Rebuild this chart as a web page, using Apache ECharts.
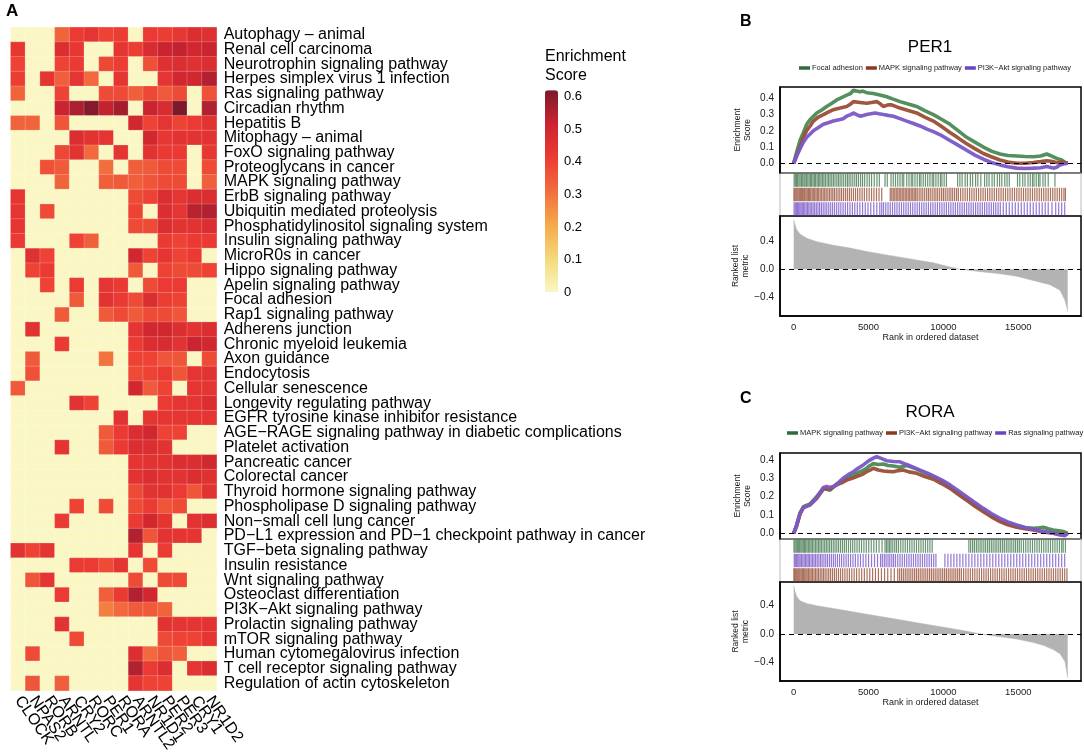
<!DOCTYPE html>
<html><head><meta charset="utf-8">
<script src="https://cdn.jsdelivr.net/npm/echarts@6/dist/echarts.min.js"></script>
<style>html,body{margin:0;padding:0;background:#fff}#c{width:1084px;height:755px}</style>
</head><body><div id="c"></div>
<script>
const genes = ['CLOCK','NPAS2','RORB','ARNTL','CRY2','RORC','PER1','RORA','ARNTL2','NR1D1','PER2','PER3','CRY1','NR1D2'];
const pathways = ['Autophagy – animal','Renal cell carcinoma','Neurotrophin signaling pathway','Herpes simplex virus 1 infection','Ras signaling pathway','Circadian rhythm','Hepatitis B','Mitophagy – animal','FoxO signaling pathway','Proteoglycans in cancer','MAPK signaling pathway','ErbB signaling pathway','Ubiquitin mediated proteolysis','Phosphatidylinositol signaling system','Insulin signaling pathway','MicroR0s in cancer','Hippo signaling pathway','Apelin signaling pathway','Focal adhesion','Rap1 signaling pathway','Adherens junction','Chronic myeloid leukemia','Axon guidance','Endocytosis','Cellular senescence','Longevity regulating pathway','EGFR tyrosine kinase inhibitor resistance','AGE−RAGE signaling pathway in diabetic complications','Platelet activation','Pancreatic cancer','Colorectal cancer','Thyroid hormone signaling pathway','Phospholipase D signaling pathway','Non−small cell lung cancer','PD−L1 expression and PD−1 checkpoint pathway in cancer','TGF−beta signaling pathway','Insulin resistance','Wnt signaling pathway','Osteoclast differentiation','PI3K−Akt signaling pathway','Prolactin signaling pathway','mTOR signaling pathway','Human cytomegalovirus infection','T cell receptor signaling pathway','Regulation of actin cytoskeleton'];
const scores = [
[0,0,0,0.33,0.42,0.44,0.40,0.41,0,0.42,0.41,0.43,0.47,0.46],
[0.43,0,0,0.47,0.43,0,0,0.44,0.41,0.48,0.52,0.53,0.50,0.52],
[0.40,0,0,0.40,0.42,0,0.39,0.41,0,0.37,0.46,0.47,0.46,0.47],
[0.41,0,0.44,0.34,0.44,0.32,0,0.44,0,0,0.44,0.50,0.50,0.55],
[0.33,0,0,0.40,0,0,0.38,0.38,0.34,0.39,0.35,0.38,0,0.37],
[0,0,0,0.52,0.56,0.61,0.53,0.57,0,0.52,0.48,0.62,0,0.55],
[0.33,0.33,0,0.36,0,0,0,0,0.50,0.40,0.44,0.40,0.42,0.45],
[0,0,0,0,0.47,0.45,0.44,0,0,0.50,0.43,0.45,0.45,0.45],
[0,0,0,0.39,0.45,0.32,0,0.44,0,0.45,0.42,0.42,0,0.43],
[0,0,0.37,0.35,0,0,0.31,0,0.34,0.35,0.38,0.38,0,0.38],
[0,0,0,0.33,0,0,0.34,0.35,0.34,0.36,0.38,0.38,0,0.34],
[0.44,0,0,0,0,0,0,0,0.38,0.40,0.47,0.44,0.47,0.47],
[0.44,0,0.38,0,0,0,0,0,0.40,0,0.47,0.44,0.54,0.55],
[0.44,0,0,0,0,0,0,0,0.38,0.38,0.47,0.45,0.45,0.47],
[0.42,0,0,0,0.40,0.34,0,0,0,0,0.42,0.40,0.42,0.42],
[0,0.46,0.40,0,0,0,0,0,0.50,0.40,0.44,0.40,0.42,0],
[0,0.40,0.42,0,0,0,0,0,0.35,0,0.40,0.38,0.38,0.40],
[0,0,0.40,0,0.42,0,0.44,0.42,0,0.38,0.42,0.42,0,0],
[0,0,0,0,0.35,0,0.45,0.42,0.38,0.47,0.41,0.40,0,0],
[0,0,0,0.35,0,0,0.35,0.38,0.35,0.38,0.38,0.36,0,0],
[0,0.45,0,0,0,0,0,0,0.44,0.50,0.50,0.47,0.45,0.47],
[0,0,0,0.42,0,0,0,0,0.42,0.47,0.48,0.45,0.52,0.50],
[0,0.35,0,0,0,0,0.30,0,0.40,0.40,0.36,0.36,0,0.38],
[0,0.37,0,0,0,0,0,0,0.38,0.40,0.42,0.36,0.44,0.45],
[0.35,0,0,0,0,0,0,0,0.50,0.35,0.40,0,0.44,0.44],
[0,0,0,0,0.45,0.40,0,0,0,0,0.42,0.44,0.44,0.47],
[0,0,0,0,0,0,0,0.45,0,0.44,0.44,0.44,0.44,0.44],
[0,0,0,0,0,0,0.35,0.42,0.47,0.50,0.40,0.40,0,0],
[0,0,0,0.44,0,0,0.35,0.42,0.47,0.47,0.45,0,0,0],
[0,0,0,0,0,0,0,0,0.44,0.45,0.45,0.47,0.47,0.50],
[0,0,0,0,0,0,0,0,0.45,0.47,0.45,0.45,0.47,0.46],
[0,0,0,0,0,0,0,0,0.38,0.45,0.45,0.42,0.36,0.45],
[0,0,0,0,0.40,0,0.38,0,0.38,0.42,0.36,0.38,0,0],
[0,0,0,0.42,0,0,0,0,0.42,0.50,0.44,0,0.45,0.47],
[0,0,0,0,0,0,0,0,0.55,0.36,0.45,0.44,0.44,0],
[0.45,0.40,0.44,0,0,0,0,0,0.44,0,0.42,0,0,0],
[0,0,0,0,0.42,0.42,0.38,0.44,0,0.38,0,0,0,0],
[0,0.36,0.44,0,0,0,0,0,0.38,0,0.38,0.38,0,0],
[0,0,0,0.42,0,0,0.34,0.42,0.55,0.50,0,0,0,0],
[0,0,0,0,0,0,0.28,0.32,0.35,0.35,0.33,0,0,0],
[0,0,0,0.45,0,0,0,0,0,0,0.45,0.44,0.44,0.45],
[0,0,0,0,0.38,0,0,0,0,0,0.38,0.40,0.40,0.44],
[0,0.38,0,0,0,0,0,0,0.47,0.32,0.36,0.34,0,0],
[0,0,0,0,0,0,0,0,0.55,0.42,0.47,0,0.44,0.47],
[0,0.36,0,0.34,0,0,0,0,0.44,0.40,0.40,0,0,0]
];
const colorbarTicks = [0,0.1,0.2,0.3,0.4,0.5,0.6];
const esTicks = [0,0.1,0.2,0.3,0.4];
const metricTicks = [-0.4,0,0.4];
const rankTicks = [0,5000,10000,15000];

// Panel B: PER1
const perSets = ['Focal adhesion','MAPK signaling pathway','PI3K−Akt signaling pathway'];
const perES_focal = [[0,0],[200,0.07],[420,0.14],[650,0.19],[870,0.24],[1100,0.27],[1540,0.31],[1900,0.33],[2200,0.35],[2550,0.37],[2870,0.39],[3200,0.405],[3540,0.42],[3800,0.43],[3985,0.45],[4200,0.445],[4430,0.44],[4600,0.445],[4875,0.435],[5320,0.43],[5760,0.42],[6210,0.41],[6650,0.395],[7100,0.38],[7650,0.365],[8210,0.35],[8750,0.325],[9330,0.30],[9900,0.27],[10440,0.24],[11000,0.20],[11550,0.16],[12100,0.13],[12670,0.10],[13200,0.075],[13780,0.057],[14300,0.048],[14890,0.045],[15450,0.042],[16000,0.04],[16500,0.045],[16900,0.057],[17200,0.045],[17560,0.03],[17900,0.02],[18120,0.005],[18300,0]];
const perES_mapk = [[0,0],[200,0.05],[423,0.10],[650,0.16],[868,0.20],[1100,0.23],[1313,0.26],[1650,0.285],[1981,0.30],[2300,0.315],[2649,0.33],[3100,0.34],[3539,0.35],[3800,0.365],[3985,0.38],[4430,0.375],[4875,0.37],[5200,0.375],[5543,0.38],[5800,0.365],[5988,0.35],[6300,0.36],[6544,0.36],[7101,0.34],[7650,0.325],[8214,0.31],[8750,0.285],[9327,0.26],[9900,0.225],[10440,0.19],[11000,0.155],[11553,0.12],[12100,0.09],[12666,0.06],[13200,0.04],[13779,0.02],[14300,0.008],[14892,0.0],[15450,0.0],[16005,0.005],[16500,0.01],[16895,0.016],[17200,0.012],[17563,0.005],[17900,0.008],[18120,0.004],[18300,0]];
const perES_pi3k = [[0,0],[200,0.045],[423,0.09],[650,0.13],[868,0.16],[1100,0.18],[1313,0.20],[1650,0.22],[1981,0.24],[2300,0.25],[2649,0.26],[3094,0.27],[3300,0.275],[3539,0.29],[3800,0.30],[3985,0.31],[4200,0.30],[4430,0.29],[4650,0.295],[4875,0.30],[5150,0.305],[5431,0.31],[5700,0.305],[5988,0.30],[6300,0.295],[6656,0.29],[7101,0.275],[7546,0.26],[8000,0.245],[8437,0.23],[8900,0.21],[9327,0.195],[9900,0.17],[10440,0.14],[11000,0.11],[11553,0.08],[12100,0.05],[12666,0.025],[13200,0.005],[13779,-0.01],[14300,-0.022],[14892,-0.03],[15450,-0.032],[16005,-0.03],[16500,-0.028],[16895,-0.02],[17100,-0.024],[17341,-0.03],[17563,-0.025],[17786,-0.01],[18000,-0.005],[18120,0.0],[18300,0]];
const perHits_focal = [30,110,190,260,350,430,520,600,690,760,850,940,1030,1120,1200,1290,1380,1460,1560,1650,1740,1830,1930,2020,2120,2230,2330,2430,2540,2650,2760,2880,2990,3100,3220,3340,3470,3590,3700,3820,3950,4080,4200,4330,4470,4600,4740,4900,5050,5200,5380,5560,5720,6100,6250,6500,6650,6800,6950,7100,7250,7350,7550,7700,7850,7950,8100,8250,8400,8500,8650,8800,8950,9100,9250,9350,9500,9650,9800,9900,10050,10200,10950,11100,11250,11450,11600,11800,11950,12150,12300,12500,12750,12900,13050,13250,13400,13600,13750,13900,14100,14250,14400,14950,15100,15300,15450,15650,15800,15950,16050,16200,16350,16450,16650,16800,17000,17450];
const perHits_mapk = [15,80,150,220,290,370,440,510,590,670,740,820,900,980,1060,1140,1230,1310,1400,1490,1580,1670,1770,1870,1970,2070,2170,2280,2390,2500,2610,2720,2840,2960,3080,3200,3330,3460,3590,3720,3850,3990,4130,4270,4420,4570,4720,4880,5040,5200,5360,5530,5700,5880,6450,6550,6650,6750,6850,6950,7050,7150,7250,7350,7450,7550,7650,7750,7850,7950,8050,8150,8250,8380,8500,8620,8750,8880,9000,9120,9250,9380,9500,9620,9750,9880,10000,10120,10250,10380,10500,10620,10750,10880,11000,11150,11300,11450,11600,11750,11900,12050,12200,12350,12500,12650,12800,12950,13100,13250,13400,13550,13700,13850,14000,14150,14300,14450,14600,14750,14900,15050,15200,15350,15500,15650,15800,15950,16100,16250,16400,16550,16700,16850,17000,17150,17300,17450,17600,17750,17900,18050,18150];
const perHits_pi3k = [25,100,180,250,330,410,490,570,650,740,830,920,1010,1100,1200,1300,1400,1510,1620,1730,1850,1970,2090,2210,2340,2470,2600,2730,2870,3010,3150,3300,3450,3600,3760,3920,4080,4250,4420,4600,4780,4960,5150,5350,5550,5750,5880,6000,6150,6300,6450,6600,6750,6900,7050,7200,7350,7500,7650,7800,7950,8100,8250,8400,8550,8700,8850,9000,9150,9300,9450,9600,9750,9900,10050,10200,10350,10500,10650,10800,10950,11100,11250,11400,11550,11700,11850,12000,12150,12300,12450,12600,12750,12900,13050,13200,13350,13500,13650,13800,14000,14200,14400,14600,14800,15000,15200,15400,15600,15800,16000,16200,16400,16600,16800,17000,17250,17500,17700,17900,18100];
const perMetric = [[0,0.70],[90,0.63],[200,0.56],[420,0.50],[870,0.44],[1540,0.39],[2650,0.34],[3760,0.30],[4875,0.25],[5990,0.21],[7100,0.17],[8210,0.13],[9330,0.09],[10440,0.03],[11100,0.0],[12670,-0.04],[13780,-0.065],[14890,-0.10],[16000,-0.16],[17120,-0.22],[17790,-0.30],[18120,-0.44],[18250,-0.55],[18300,-0.6]];

// Panel C: RORA
const roraSets = ['MAPK signaling pathway','PI3K−Akt signaling pathway','Ras signaling pathway'];
const roraES_mapk = [[0,0],[200,0.045],[423,0.11],[645,0.145],[1090,0.16],[1536,0.20],[1981,0.245],[2200,0.24],[2426,0.235],[2872,0.27],[3200,0.285],[3539,0.30],[3900,0.315],[4207,0.327],[4550,0.34],[4875,0.355],[5100,0.37],[5320,0.38],[5650,0.375],[5988,0.378],[6300,0.37],[6656,0.367],[7101,0.36],[7546,0.37],[7900,0.36],[8214,0.35],[8750,0.33],[9327,0.31],[9900,0.285],[10440,0.255],[11000,0.222],[11553,0.19],[12100,0.158],[12666,0.127],[13200,0.098],[13779,0.073],[14300,0.055],[14892,0.04],[15450,0.032],[16005,0.027],[16400,0.03],[16673,0.033],[17000,0.025],[17341,0.018],[17700,0.014],[18008,0.01],[18300,0]];
const roraES_pi3k = [[0,0],[200,0.04],[423,0.105],[645,0.14],[1090,0.155],[1536,0.19],[1981,0.24],[2200,0.245],[2426,0.24],[2872,0.265],[3200,0.275],[3539,0.29],[3900,0.30],[4207,0.31],[4550,0.32],[4875,0.336],[5100,0.345],[5320,0.355],[5650,0.345],[5988,0.34],[6300,0.338],[6656,0.336],[7000,0.342],[7300,0.345],[7700,0.335],[8214,0.327],[8750,0.31],[9327,0.295],[9900,0.27],[10440,0.245],[11000,0.212],[11553,0.18],[12100,0.148],[12666,0.118],[13200,0.09],[13779,0.064],[14300,0.046],[14892,0.033],[15450,0.025],[16005,0.018],[16500,0.01],[16900,0.004],[17300,0.0],[17700,-0.004],[18008,-0.008],[18120,-0.01],[18300,0]];
const roraES_ras = [[0,0],[200,0.045],[423,0.11],[645,0.14],[1090,0.155],[1536,0.195],[1981,0.25],[2200,0.255],[2426,0.25],[2649,0.255],[2872,0.264],[3094,0.285],[3300,0.30],[3650,0.32],[3985,0.336],[4300,0.355],[4650,0.373],[5000,0.395],[5320,0.41],[5543,0.418],[5800,0.41],[6211,0.396],[6656,0.392],[7101,0.39],[7546,0.375],[7900,0.364],[8437,0.345],[8900,0.33],[9327,0.313],[9900,0.29],[10440,0.264],[11000,0.232],[11553,0.20],[12100,0.168],[12666,0.136],[13200,0.108],[13779,0.082],[14300,0.062],[14892,0.045],[15450,0.032],[16005,0.022],[16500,0.014],[16895,0.009],[17300,0.002],[17786,-0.009],[18120,-0.013],[18300,0]];
const roraHits_mapk = [20,90,170,250,330,400,480,560,640,720,800,890,980,1070,1160,1250,1350,1450,1550,1650,1750,1850,1960,2070,2180,2290,2400,2520,2640,2760,2880,3000,3130,3260,3390,3520,3660,3800,3940,4080,4230,4380,4530,4690,4850,5010,5180,5350,5520,5700,5900,6100,6200,6300,6400,6500,6620,6750,6870,7000,7150,7300,7450,7600,7750,7900,8050,8200,8350,8500,8650,8800,8950,9100,9250,11700,11820,11950,12070,12200,12320,12450,12570,12700,12820,12950,13070,13200,13320,13450,13570,13700,13820,13950,14070,14200,14320,14450,14570,14700,14820,14950,15070,15200,15350,15500,15650,15800,15950,16100,16250,16400,16550,16700,16850,17000,17150,17300,17450,17600,17750,17900,18000,18150];
const roraHits_ras = [35,110,190,270,350,430,520,610,700,790,880,970,1060,1160,1260,1360,1460,1570,1680,1790,1900,2020,2140,2260,2390,2520,2650,2780,2920,3060,3200,3350,3500,3650,3800,3960,4120,4290,4460,4640,4820,5000,5200,5400,5600,5800,5920,6050,6170,6300,6420,6550,6670,6800,6950,7100,7250,7400,7550,7700,7850,8000,8150,8300,8450,8600,8750,8900,9050,9200,9350,9500,10100,10300,10500,10700,10900,11100,11300,11500,11700,11900,12100,12300,12500,12700,12900,13100,13300,13500,13700,13900,14100,14300,14500,14700,14900,15100,15300,15500,15700,15900,16100,16300,16500,16700,16900,17100,17300,17500,17700,17900,18100];
const roraHits_pi3k = [10,70,140,210,280,350,420,500,580,660,740,820,900,990,1080,1170,1260,1360,1460,1560,1660,1770,1880,1990,2100,2220,2340,2460,2590,2720,2850,2990,3130,3270,3420,3570,3720,3880,4040,4200,4370,4540,4720,4900,5080,5270,5460,5660,5860,6070,6280,6500,6720,6950,7075,7200,7325,7450,7575,7700,7825,7950,8075,8200,8325,8450,8575,8700,8825,8950,9075,9200,9325,9450,9575,9700,9825,9950,10075,10200,10325,10450,10575,10700,10825,10950,11075,11200,11350,11500,11650,11800,11950,12100,12250,12400,12550,12700,12850,13000,13150,13300,13450,13600,13750,13900,14050,14200,14350,14500,14650,14800,14950,15100,15250,15400,15550,15700,15850,16000,16150,16300,16450,16600,16750,16900,17050,17200,17350,17500,17650,17800,17950,18100,18250];
const roraMetric = [[0,0.68],[90,0.60],[200,0.53],[420,0.47],[870,0.43],[1540,0.40],[2650,0.36],[3760,0.32],[4875,0.28],[5990,0.24],[7100,0.20],[8210,0.16],[9330,0.12],[10440,0.08],[11550,0.04],[12400,0.005],[12666,-0.005],[13780,-0.04],[14890,-0.07],[16000,-0.12],[16670,-0.16],[17340,-0.22],[17790,-0.28],[18120,-0.39],[18230,-0.52],[18300,-0.62]];

const GREEN = '#4A8A55', BROWN = '#9B4E35', PURPLE = '#7A58C6';
const GREEN_D = '#2F6B3B', BROWN_D = '#8A3A1E', PURPLE_D = '#6A44C2';
const FONT = 'Liberation Sans, Arial, Helvetica, sans-serif';
const TXT = '#1a1a1a';
const XMIN = -915, XMAX = 19190;

const heatData = [];
scores.forEach((row, r) => row.forEach((v, c) => heatData.push([c, r, v])));

const grids = [
  {left: 10.7, top: 27.3, width: 206, height: 665},
  {left: 545, top: 90.2, width: 13, height: 202},
  {left: 780, top: 87, width: 301, height: 86, show: true, borderColor: '#000', borderWidth: 1.5, backgroundColor: 'transparent'},
  {left: 780, top: 173, width: 301, height: 43, show: true, borderColor: '#BBBBBB', borderWidth: 1, backgroundColor: 'transparent'},
  {left: 780, top: 216, width: 301, height: 100, show: true, borderColor: '#000', borderWidth: 1.5, backgroundColor: 'transparent'},
  {left: 780, top: 453, width: 301, height: 86, show: true, borderColor: '#000', borderWidth: 1.5, backgroundColor: 'transparent'},
  {left: 780, top: 539, width: 301, height: 43, show: true, borderColor: '#BBBBBB', borderWidth: 1, backgroundColor: 'transparent'},
  {left: 780, top: 582, width: 301, height: 99, show: true, borderColor: '#000', borderWidth: 1.5, backgroundColor: 'transparent'}
];

function hiddenX(gi) {
  return {gridIndex: gi, type: 'value', min: XMIN, max: XMAX, show: false, splitLine: {show: false},
    axisLine: {onZero: false}};
}
function rankX(gi) {
  return {gridIndex: gi, type: 'value', min: XMIN, max: XMAX, position: 'bottom',
    axisLine: {show: true, onZero: false, lineStyle: {color: '#000', width: 1.5}},
    axisTick: {show: false},
    axisLabel: {customValues: rankTicks, formatter: v => String(v), fontSize: 9.5, color: TXT, fontFamily: FONT, margin: 6},
    splitLine: {show: false},
    name: 'Rank in ordered dataset', nameLocation: 'middle', nameGap: 16,
    nameTextStyle: {fontSize: 9, color: TXT, fontFamily: FONT}};
}
function esY(gi, min, max) {
  return {gridIndex: gi, type: 'value', min: min, max: max, position: 'left',
    axisLine: {show: true, onZero: false, lineStyle: {color: '#000', width: 1.5}},
    axisTick: {show: false},
    axisLabel: {customValues: esTicks, formatter: v => v.toFixed(1), fontSize: 10, color: TXT, fontFamily: FONT, margin: 6},
    splitLine: {show: false},
    name: 'Enrichment\nScore', nameLocation: 'middle', nameGap: 27,
    nameTextStyle: {fontSize: 8.5, lineHeight: 10, color: TXT, fontFamily: FONT}};
}
function metricY(gi, min, max) {
  return {gridIndex: gi, type: 'value', min: min, max: max, position: 'left',
    axisLine: {show: true, onZero: false, lineStyle: {color: '#000', width: 1.5}},
    axisTick: {show: false},
    axisLabel: {customValues: metricTicks, formatter: v => (v < 0 ? '−' : '') + Math.abs(v).toFixed(1), fontSize: 10, color: TXT, fontFamily: FONT, margin: 6},
    splitLine: {show: false},
    name: 'Ranked list\nmetric', nameLocation: 'middle', nameGap: 27,
    nameTextStyle: {fontSize: 8.5, lineHeight: 10, color: TXT, fontFamily: FONT}};
}
function barY(gi) {
  return {gridIndex: gi, type: 'value', min: 0, max: 3, inverse: true, show: false, splitLine: {show: false},
    axisLine: {onZero: false}};
}

const zeroLineItem = {yAxis: 0, lineStyle: {type: [5, 4], color: '#000', width: 1.2}};
// outward tick marks along the left (y ticks) and bottom (x ticks) edges, in data units
function yTickItems(values) {
  return values.map(v => [{coord: [XMIN, v], lineStyle: {type: 'solid', color: '#000', width: 1}}, {coord: [XMIN - 230, v]}]);
}
function xTickItems(values, ymin, dy) {
  return values.map(v => [{coord: [v, ymin], lineStyle: {type: 'solid', color: '#000', width: 1}}, {coord: [v, ymin - dy]}]);
}
function markLines(items) {
  return {silent: true, symbol: 'none', label: {show: false}, animation: false,
    lineStyle: {type: [5, 4], color: '#000', width: 1.2}, data: items};
}

function esSeries(name, data, gi, color, tickVals) {
  const s = {type: 'line', name: name, xAxisIndex: gi, yAxisIndex: gi, data: data,
    showSymbol: false, symbol: 'none', smooth: false,
    lineStyle: {width: 3.6, color: color, opacity: 0.95}, itemStyle: {color: color}, z: 3};
  if (tickVals) s.markLine = markLines([zeroLineItem].concat(yTickItems(tickVals)));
  return s;
}
function hitSeries(id, hits, row, gi, color) {
  return {type: 'custom', name: id, xAxisIndex: gi, yAxisIndex: gi,
    data: hits.map(h => [h, row]), encode: {x: 0, y: 1}, silent: true,
    renderItem: function (params, api) {
      const p0 = api.coord([api.value(0), api.value(1)]);
      const p1 = api.coord([api.value(0), api.value(1) + 1]);
      return {type: 'line', shape: {x1: p0[0], y1: p0[1] + 0.5, x2: p1[0], y2: p1[1] - 0.5},
        style: {stroke: color, lineWidth: 1.2, opacity: 0.72}};
    }};
}
function metricSeries(id, data, gi, ymin) {
  return {type: 'line', name: id, xAxisIndex: gi, yAxisIndex: gi, data: data,
    showSymbol: false, symbol: 'none', lineStyle: {width: 0.5, color: '#B3B3B3'},
    areaStyle: {color: '#B3B3B3', opacity: 1}, z: 2,
    markLine: markLines([zeroLineItem].concat(yTickItems(metricTicks), xTickItems(rankTicks, ymin, 0.045)))};
}

const option = {
  animation: false,
  backgroundColor: '#fff',
  textStyle: {fontFamily: FONT},
  title: [
    {text: 'A', left: 6, top: 3, padding: 0, textStyle: {fontSize: 17, fontWeight: 'bold', color: '#000', fontFamily: FONT}},
    {text: 'Enrichment\nScore', left: 545, top: 47, padding: 0, textStyle: {fontSize: 16, fontWeight: 'normal', lineHeight: 19, color: '#000', fontFamily: FONT}},
    {text: 'B', left: 740, top: 14, padding: 0, textStyle: {fontSize: 16, fontWeight: 'bold', color: '#000', fontFamily: FONT}},
    {text: 'PER1', left: 930, top: 39, textAlign: 'center', padding: 0, textStyle: {fontSize: 17, fontWeight: 'normal', color: '#000', fontFamily: FONT}},
    {text: 'C', left: 740, top: 391, padding: 0, textStyle: {fontSize: 16, fontWeight: 'bold', color: '#000', fontFamily: FONT}},
    {text: 'RORA', left: 930, top: 404, textAlign: 'center', padding: 0, textStyle: {fontSize: 17, fontWeight: 'normal', color: '#000', fontFamily: FONT}}
  ],
  legend: [
    {left: 799, top: 64, padding: 0, itemWidth: 11, itemHeight: 3.5, itemGap: 3, icon: 'rect',
      textStyle: {fontSize: 7.5, color: TXT, fontFamily: FONT, padding: [0, 0, 0, -3]},
      data: [{name: perSets[0], itemStyle: {color: GREEN_D}}, {name: perSets[1], itemStyle: {color: BROWN_D}}, {name: perSets[2], itemStyle: {color: PURPLE_D}}]},
    {left: 787, top: 429, padding: 0, itemWidth: 11, itemHeight: 3.5, itemGap: 3, icon: 'rect',
      textStyle: {fontSize: 7.5, color: TXT, fontFamily: FONT, padding: [0, 0, 0, -3]},
      data: [{name: roraSets[0], itemStyle: {color: GREEN_D}}, {name: roraSets[1], itemStyle: {color: BROWN_D}}, {name: roraSets[2], itemStyle: {color: PURPLE_D}}]}
  ],
  grid: grids,
  xAxis: [
    {gridIndex: 0, type: 'category', data: genes, position: 'bottom',
      axisLine: {show: false}, axisTick: {show: false}, splitArea: {show: false},
      axisLabel: {rotate: -55, interval: 0, fontSize: 16, color: '#000', fontFamily: FONT, margin: 7}},
    {gridIndex: 1, type: 'value', show: false},
    hiddenX(2), hiddenX(3), rankX(4), hiddenX(5), hiddenX(6), rankX(7)
  ],
  yAxis: [
    {gridIndex: 0, type: 'category', data: pathways, inverse: true, position: 'right',
      axisLine: {show: false}, axisTick: {show: false}, splitArea: {show: false},
      axisLabel: {interval: 0, fontSize: 16, color: '#000', fontFamily: FONT, margin: 7}},
    {gridIndex: 1, type: 'value', min: 0, max: 0.62, position: 'right',
      axisLine: {show: false, onZero: false}, axisTick: {show: false}, splitLine: {show: false},
      axisLabel: {customValues: colorbarTicks, formatter: v => v === 0 ? '0' : v.toFixed(1), fontSize: 13, color: '#000', fontFamily: FONT, margin: 6}},
    esY(2, -0.06, 0.47), barY(3), metricY(4, -0.665, 0.755),
    esY(5, -0.031, 0.438), barY(6), metricY(7, -0.664, 0.735)
  ],
  visualMap: [{
    type: 'continuous', seriesIndex: 0, min: 0, max: 0.62, calculable: false, show: true,
    orient: 'vertical', left: 545, top: 90.2, itemWidth: 13, itemHeight: 202, padding: 0,
    text: null, hoverLink: false,
    inRange: {color: ['#FAF7C4', '#F3D97A', '#F5A94A', '#F16E3E', '#EC3B33', '#CC2430', '#7C1A2C']}
  }],
  series: [
    {type: 'heatmap', name: 'heat', xAxisIndex: 0, yAxisIndex: 0, data: heatData,
      itemStyle: {borderColor: 'rgba(255,255,255,0.35)', borderWidth: 0.6},
      emphasis: {disabled: true}},
    // Panel B
    esSeries(perSets[0], perES_focal, 2, GREEN, esTicks),
    esSeries(perSets[1], perES_mapk, 2, BROWN, null),
    esSeries(perSets[2], perES_pi3k, 2, PURPLE, null),
    hitSeries('hitsB0', perHits_focal, 0, 3, GREEN_D),
    hitSeries('hitsB1', perHits_mapk, 1, 3, BROWN_D),
    hitSeries('hitsB2', perHits_pi3k, 2, 3, PURPLE_D),
    metricSeries('metricB', perMetric, 4, -0.665),
    // Panel C
    esSeries(roraSets[0], roraES_mapk, 5, GREEN, esTicks),
    esSeries(roraSets[1], roraES_pi3k, 5, BROWN, null),
    esSeries(roraSets[2], roraES_ras, 5, PURPLE, null),
    hitSeries('hitsC0', roraHits_mapk, 0, 6, GREEN_D),
    hitSeries('hitsC1', roraHits_ras, 1, 6, PURPLE_D),
    hitSeries('hitsC2', roraHits_pi3k, 2, 6, BROWN_D),
    metricSeries('metricC', roraMetric, 7, -0.664)
  ]
};
const chart = echarts.init(document.getElementById('c'), null, {renderer: 'canvas'});
chart.setOption(option);
</script></body></html>
